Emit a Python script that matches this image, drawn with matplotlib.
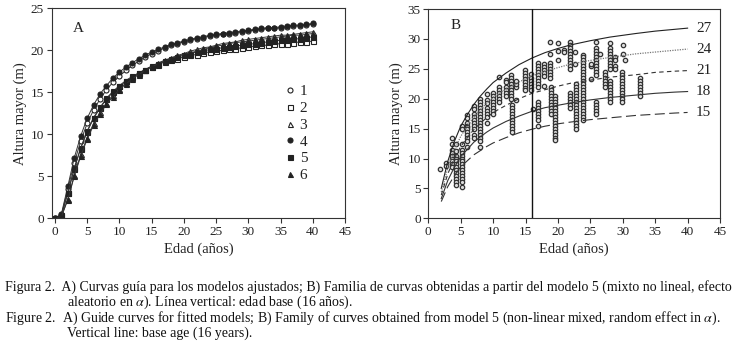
import matplotlib
matplotlib.use("Agg")
import matplotlib.pyplot as plt
from matplotlib.lines import Line2D

plt.rcParams['font.family'] = ['Liberation Serif', 'DejaVu Serif']
plt.rcParams['mathtext.fontset'] = 'stix'

# ---------------- Panel A data ----------------
ages_a = list(range(0, 41))
s1 = [0.0,0.4,3.5,6.6,9.2,11.3,12.9,14.2,15.3,16.2,16.9,17.6,18.2,18.7,19.2,19.6,19.9,20.3,20.6,20.8,21.0,21.2,21.4,21.5,21.7,21.8,21.9,22.0,22.1,22.2,22.3,22.4,22.5,22.6,22.6,22.7,22.8,22.9,22.9,23.0,23.1]
s2 = [0.0,0.3,3.0,6.0,8.4,10.4,12.0,13.2,14.3,15.1,15.8,16.4,16.9,17.3,17.7,18.0,18.3,18.6,18.8,19.0,19.2,19.4,19.5,19.7,19.8,19.9,20.0,20.1,20.2,20.3,20.4,20.5,20.6,20.6,20.7,20.8,20.8,20.9,21.0,21.0,21.1]
s3 = [0.0,0.2,2.3,5.1,7.6,9.6,11.3,12.6,13.7,14.7,15.4,16.1,16.7,17.2,17.7,18.1,18.5,18.8,19.1,19.4,19.6,19.9,20.1,20.3,20.4,20.6,20.8,20.9,21.0,21.2,21.3,21.4,21.5,21.6,21.7,21.8,21.8,21.9,22.0,22.1,22.2]
s4 = [0.0,0.5,3.8,7.2,9.8,11.9,13.5,14.8,15.8,16.7,17.4,18.0,18.5,19.0,19.4,19.8,20.1,20.4,20.7,20.9,21.1,21.3,21.5,21.6,21.8,21.9,22.0,22.1,22.2,22.3,22.4,22.5,22.6,22.7,22.7,22.8,22.9,23.0,23.0,23.1,23.2]
s5 = [0.0,0.4,3.0,5.9,8.3,10.3,11.9,13.1,14.2,15.0,15.7,16.3,16.8,17.3,17.7,18.1,18.4,18.7,19.0,19.2,19.4,19.6,19.8,19.9,20.1,20.2,20.3,20.4,20.5,20.6,20.7,20.8,20.9,21.0,21.1,21.2,21.2,21.3,21.4,21.5,21.6]
s6 = [0.0,0.2,2.2,5.0,7.4,9.4,11.1,12.4,13.6,14.5,15.3,16.0,16.6,17.1,17.6,18.0,18.4,18.7,19.0,19.3,19.5,19.7,19.9,20.1,20.3,20.5,20.6,20.8,20.9,21.0,21.1,21.2,21.3,21.4,21.5,21.6,21.7,21.8,21.8,21.9,22.0]
series_labels = ['1', '2', '3', '4', '5', '6']

# ---------------- Panel B data ----------------
ages_b = [2,3,4,5,6,7,8,9,10,12,14,16,18,20,22,25,28,30,32,35,38,40]
c27 = [5.0,9.5,12.8,15.4,17.3,19.0,20.4,21.6,22.7,24.3,25.7,26.8,27.7,28.4,29.0,29.7,30.3,30.6,30.9,31.3,31.6,31.8]
c24 = [4.4,8.4,11.4,13.7,15.4,16.9,18.1,19.2,20.2,21.6,22.8,23.8,24.6,25.2,25.8,26.4,26.9,27.2,27.5,27.8,28.1,28.3]
c21 = [3.9,7.4,10.0,12.0,13.5,14.8,15.9,16.8,17.7,18.9,20.0,20.9,21.5,22.1,22.6,23.1,23.6,23.8,24.0,24.4,24.6,24.7]
c18 = [3.3,6.3,8.5,10.3,11.5,12.7,13.6,14.4,15.1,16.2,17.1,17.9,18.5,18.9,19.3,19.8,20.2,20.4,20.6,20.9,21.1,21.2]
c15 = [2.8,5.3,7.1,8.6,9.6,10.6,11.3,12.0,12.6,13.5,14.3,14.9,15.4,15.8,16.1,16.5,16.8,17.0,17.2,17.4,17.6,17.7]
curve_labels = ['27', '24', '21', '18', '15']
base_age = 16

obs_age = [1.8, 2.8, 3.6, 4.3, 5.2, 6.0, 7.0, 8.0, 9.0, 10.0, 10.9, 12.0, 12.7, 12.9,
           13.6, 14.9, 15.9, 16.1, 16.9, 17.0, 17.8, 18.8, 18.9, 19.5, 20.0, 21.0,
           21.8, 21.9, 22.8, 22.7, 23.9, 25.1, 25.9, 25.8, 26.5, 27.3, 28.0, 28.1,
           28.8, 29.9, 30.0, 30.4, 32.7]
obs_h = [
    [8.3],
    [9.2, 8.7],
    [13.5, 12.5, 11.5, 11.0, 10.5, 10.0, 9.5, 9.0, 8.5],
    [12.5, 11.2, 10.5, 10.0, 9.5, 9.0, 8.5, 8.0, 7.5, 7.0, 6.5, 6.0, 5.5],
    [15.5, 15.0, 12.5, 11.5, 11.0, 10.5, 10.0, 9.5, 9.0, 8.5, 8.0, 7.5, 7.0, 6.5, 6.0, 5.2],
    [17.2, 16.8, 16.0, 15.5, 15.2, 15.0, 14.5, 14.0, 13.5, 13.0, 12.0],
    [18.7, 18.2, 17.5, 17.0, 16.5, 16.0, 15.5, 15.0, 14.0, 13.5],
    [20.0, 19.5, 19.0, 18.5, 18.0, 17.5, 17.0, 16.5, 16.0, 15.5, 15.0, 14.5, 14.0, 13.5, 13.0, 12.0],
    [20.8, 19.8, 19.2, 18.5, 18.0, 17.5, 17.0, 16.0],
    [21.0, 20.5, 20.0, 19.5, 19.0, 18.5, 18.0, 17.5],
    [23.7, 22.0, 21.5, 21.0, 20.5, 20.0, 19.5],
    [23.2, 22.8, 22.0, 21.5, 21.0, 20.5],
    [24.0, 23.5, 23.0, 22.5, 22.0, 21.5, 21.0, 20.5, 20.0],
    [19.0, 18.5, 18.0, 17.5, 17.0, 16.5, 16.0, 15.5, 15.0, 14.5],
    [19.8, 22.0, 22.5, 23.0],
    [24.8, 24.3, 23.8, 23.3, 22.8, 22.3, 21.8, 21.5],
    [24.2, 23.5, 23.0, 22.5, 22.0, 21.5],
    [18.2],
    [26.0, 25.5, 25.0, 24.5, 24.0, 23.5, 23.0, 22.5, 22.0],
    [19.5, 19.0, 18.5, 18.0, 17.5, 17.0, 16.5, 15.4],
    [25.8, 25.3, 24.8, 24.3, 23.8, 22.2],
    [29.5, 27.5, 26.0, 25.5, 25.0, 24.5, 24.0, 23.5],
    [22.0, 21.5, 21.0, 20.5, 20.0, 19.5, 19.0, 18.5, 18.0, 17.5],
    [20.5, 20.0, 19.5, 19.0, 18.5, 18.0, 17.5, 17.0, 16.5, 16.0, 15.5, 15.0, 14.5, 14.0, 13.5, 13.1],
    [26.5, 29.3, 28.0],
    [28.2, 27.8],
    [29.5, 29.0, 28.5, 28.0, 27.5, 27.0, 26.5, 26.0, 25.5, 25.0],
    [21.0, 20.5, 20.0, 19.5, 19.0, 18.5],
    [22.5, 22.0, 21.5, 21.0, 20.5, 20.0, 19.5, 19.0, 18.5, 18.0, 17.5, 17.0, 16.5, 16.0, 15.5, 15.0],
    [27.8, 25.8],
    [27.3, 27.0, 26.5, 26.0, 25.5, 25.0, 24.5, 24.0, 23.5, 23.0, 22.5, 22.0, 21.5, 21.0, 20.5, 20.0, 19.5, 19.0, 18.5, 18.0, 17.5, 17.0, 16.5],
    [25.5, 25.8, 23.3],
    [29.5, 28.5, 28.0, 27.5, 27.0, 26.5, 26.0, 25.5, 25.0, 24.5, 24.0],
    [19.5, 19.0, 18.5, 18.0, 17.5],
    [27.5],
    [24.5, 24.0, 23.5, 23.0, 22.5, 22.0],
    [29.3, 28.5, 28.0, 27.5, 27.0, 26.5, 26.0, 25.5, 25.0],
    [23.0, 22.5, 22.0, 21.5, 21.0, 20.5, 20.0, 19.5],
    [27.0, 26.5, 25.5, 25.0],
    [24.5, 24.0, 23.5, 23.0, 22.5, 22.0, 21.5, 21.0, 20.5, 20.0, 19.5],
    [29.0, 27.5],
    [26.5],
    [23.5, 23.0, 22.5, 22.0, 21.5, 21.0, 20.5],
]

caption_es_1 = "Figura 2.  A) Curvas guía para los modelos ajustados; B) Familia de curvas obtenidas a partir del modelo 5 (mixto no lineal, efecto"
caption_es_2 = r"aleatorio en $\alpha$). Línea vertical: edad base (16 años)."
caption_en_1 = r"Figure 2.  A) Guide curves for fitted models; B) Family of curves obtained from model 5 (non-linear mixed, random effect in $\alpha$)."
caption_en_2 = "Vertical line: base age (16 years)."

W, H = 736, 346
fig = plt.figure(figsize=(W/100, H/100), dpi=100)

def box(l, r, t, b):
    return [l/W, 1-b/H, (r-l)/W, (b-t)/H]

ink = '#222222'
tick_fs = 9.5

def style(ax):
    for sp in ax.spines.values():
        sp.set_color('#333333')
        sp.set_linewidth(0.8)
    ax.tick_params(direction='out', length=3.5, width=0.8, colors='#333333',
                   labelcolor='#222222', labelsize=tick_fs, pad=2)

# Panel A
axA = fig.add_axes(box(51.7, 345, 8.3, 218.3))
style(axA)
markers = [('o', 'white'), ('s', 'white'), ('^', 'white'), ('o', ink), ('s', ink), ('^', ink)]
handles = []
for ys, (m, fc), lab in zip([s1, s2, s3, s4, s5, s6], markers, series_labels):
    axA.plot(ages_a, ys, color='#333333', lw=0.7, marker=m, ms=3.6,
             mfc=fc, mec=ink, mew=0.8)
    handles.append(Line2D([], [], ls='none', marker=m, ms=3.6, mfc=fc, mec=ink,
                          mew=0.8, label=lab))
axA.set_xlim(-0.5, 45)
axA.set_ylim(0, 25)
axA.set_xticks(range(0, 46, 5))
axA.set_yticks(range(0, 26, 5))
axA.set_xlabel('Edad (años)', fontsize=10.5, color=ink, labelpad=3)
axA.set_ylabel('Altura mayor (m)', fontsize=10.5, color=ink, labelpad=3)
axA.text(0.09, 0.906, 'A', transform=axA.transAxes, fontsize=11, color=ink,
         ha='center', va='center')
axA.legend(handles=handles, loc='upper left', bbox_to_anchor=(0.775, 0.665),
           frameon=False, fontsize=11, handlelength=0.6, handletextpad=0.35,
           labelspacing=0.2, borderaxespad=0, labelcolor=ink)

# Panel B
axB = fig.add_axes(box(428.3, 720, 9, 218.3))
style(axB)
for a, hs in zip(obs_age, obs_h):
    axB.scatter([a]*len(hs), hs, s=10, facecolors='#dddddd', edgecolors='#333333',
                linewidths=0.9, zorder=2)
line_styles = [('-', '#222222', 0.8), ((0, (1, 1)), '#777777', 0.9),
               ((0, (4, 3)), '#333333', 0.8), ('-', '#333333', 0.8),
               ((0, (9, 4)), '#333333', 0.8)]
for cv, lab, (ls, col, lw) in zip([c27, c24, c21, c18, c15], curve_labels, line_styles):
    axB.plot(ages_b, cv, ls=ls, color=col, lw=lw, zorder=3)
    axB.text(41.3, cv[-1], lab, fontsize=11, color=ink, ha='left', va='center')
axB.axvline(base_age, color='#111111', lw=1.0, zorder=4)
axB.set_xlim(0, 45)
axB.set_ylim(0, 35)
axB.set_xticks(range(0, 46, 5))
axB.set_yticks(range(0, 36, 5))
axB.set_xlabel('Edad (años)', fontsize=10.5, color=ink, labelpad=3)
axB.set_ylabel('Altura mayor (m)', fontsize=10.5, color=ink, labelpad=3)
axB.text(0.092, 0.92, 'B', transform=axB.transAxes, fontsize=11, color=ink,
         ha='center', va='center')

# Captions
cap_fs = 10
fig.text(5/W, 1-287/H, caption_es_1, fontsize=cap_fs, color='#111111', ha='left', va='center')
fig.text(67/W, 1-302/H, caption_es_2, fontsize=cap_fs, color='#111111', ha='left', va='center')
fig.text(5/W, 1-318/H, caption_en_1, fontsize=cap_fs, color='#111111', ha='left', va='center')
fig.text(67/W, 1-333/H, caption_en_2, fontsize=cap_fs, color='#111111', ha='left', va='center')

fig.savefig('out.png', dpi=100)
